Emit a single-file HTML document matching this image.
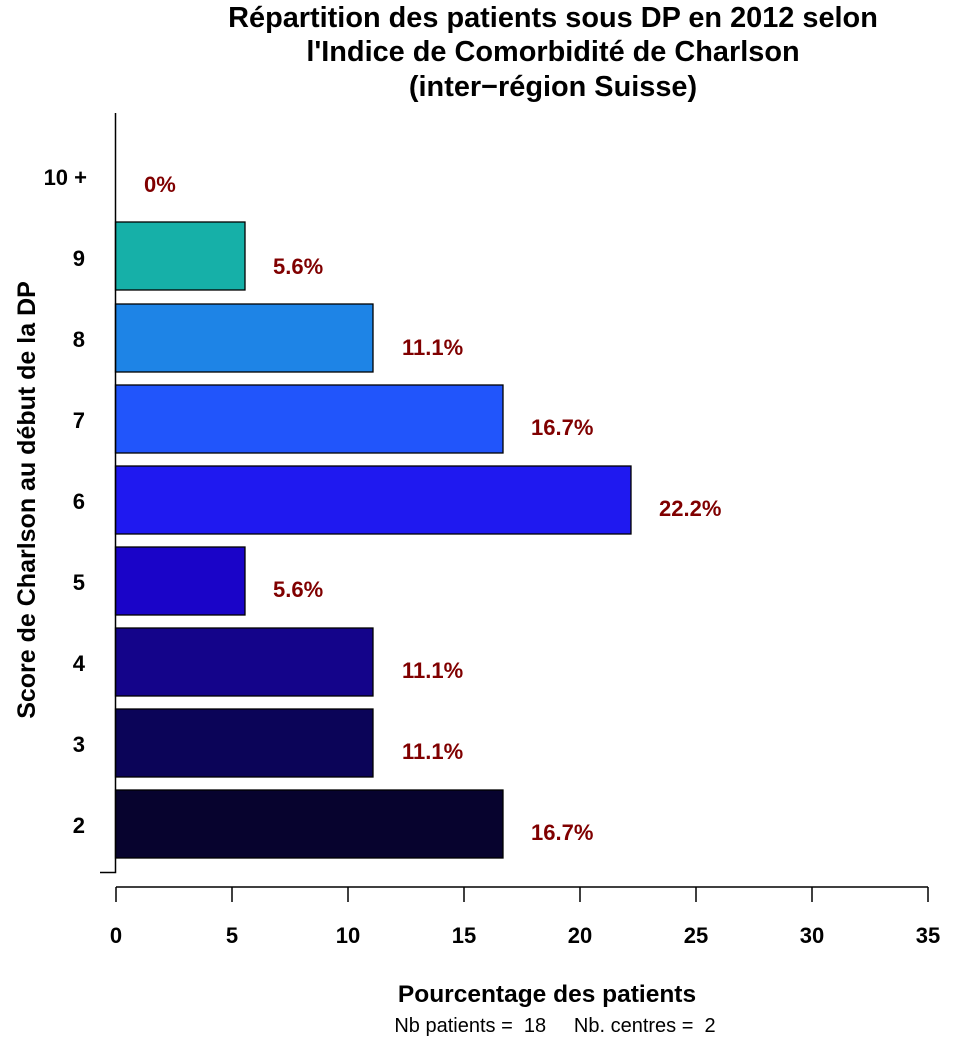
<!DOCTYPE html><html><head><meta charset="utf-8"><style>body{margin:0;background:#fff}</style></head><body>
<svg width="979" height="1040" xmlns="http://www.w3.org/2000/svg" font-family="Liberation Sans, sans-serif" font-weight="bold">
<rect width="979" height="1040" fill="#fff"/>
<g font-size="28.9" text-anchor="middle" fill="#000">
<text x="553" y="27">Répartition des patients sous DP en 2012 selon</text>
<text x="553" y="61">l'Indice de Comorbidité de Charlson</text>
<text x="553" y="96">(inter−région Suisse)</text>
</g>
<g stroke="#000" stroke-width="1.3">
<rect x="115.5" y="790" width="387.5" height="68" fill="#07032e"/>
<rect x="115.5" y="709" width="257.5" height="68" fill="#0b0458"/>
<rect x="115.5" y="628" width="257.5" height="68" fill="#14048a"/>
<rect x="115.5" y="547" width="129.5" height="68" fill="#1a04c8"/>
<rect x="115.5" y="466" width="515.5" height="68" fill="#1f19f0"/>
<rect x="115.5" y="385" width="387.5" height="68" fill="#2155fb"/>
<rect x="115.5" y="304" width="257.5" height="68" fill="#1e84e6"/>
<rect x="115.5" y="222" width="129.5" height="68" fill="#16b0a8"/>
</g>
<g stroke="#000" stroke-width="1.5" fill="none">
<path d="M115.5 113V872.5H100"/>
<path d="M116 887H928M116 887v15M232 887v15M348 887v15M464 887v15M580 887v15M696 887v15M812 887v15M928 887v15"/>
</g>
<g font-size="22" fill="#800000">
<text x="144" y="192">0%</text>
<text x="273" y="274">5.6%</text>
<text x="402" y="355">11.1%</text>
<text x="531" y="435">16.7%</text>
<text x="659" y="516">22.2%</text>
<text x="273" y="597">5.6%</text>
<text x="402" y="678">11.1%</text>
<text x="402" y="759">11.1%</text>
<text x="531" y="840">16.7%</text>
</g>
<g font-size="22" text-anchor="end">
<text x="87" y="185">10 +</text>
<text x="85" y="266">9</text><text x="85" y="347">8</text><text x="85" y="428">7</text>
<text x="85" y="509">6</text><text x="85" y="590">5</text><text x="85" y="671">4</text>
<text x="85" y="752">3</text><text x="85" y="833">2</text>
</g>
<g font-size="22" text-anchor="middle">
<text x="116" y="943">0</text><text x="232" y="943">5</text><text x="348" y="943">10</text>
<text x="464" y="943">15</text><text x="580" y="943">20</text><text x="696" y="943">25</text>
<text x="812" y="943">30</text><text x="928" y="943">35</text>
<text x="547" y="1002" font-size="24.5">Pourcentage des patients</text>
<text transform="translate(35,500) rotate(-90)" font-size="25">Score de Charlson au début de la DP</text>
</g>
<text x="555" y="1032" font-size="20" font-weight="normal" text-anchor="middle" style="white-space:pre" xml:space="preserve">Nb patients =  18     Nb. centres =  2</text>
</svg></body></html>
